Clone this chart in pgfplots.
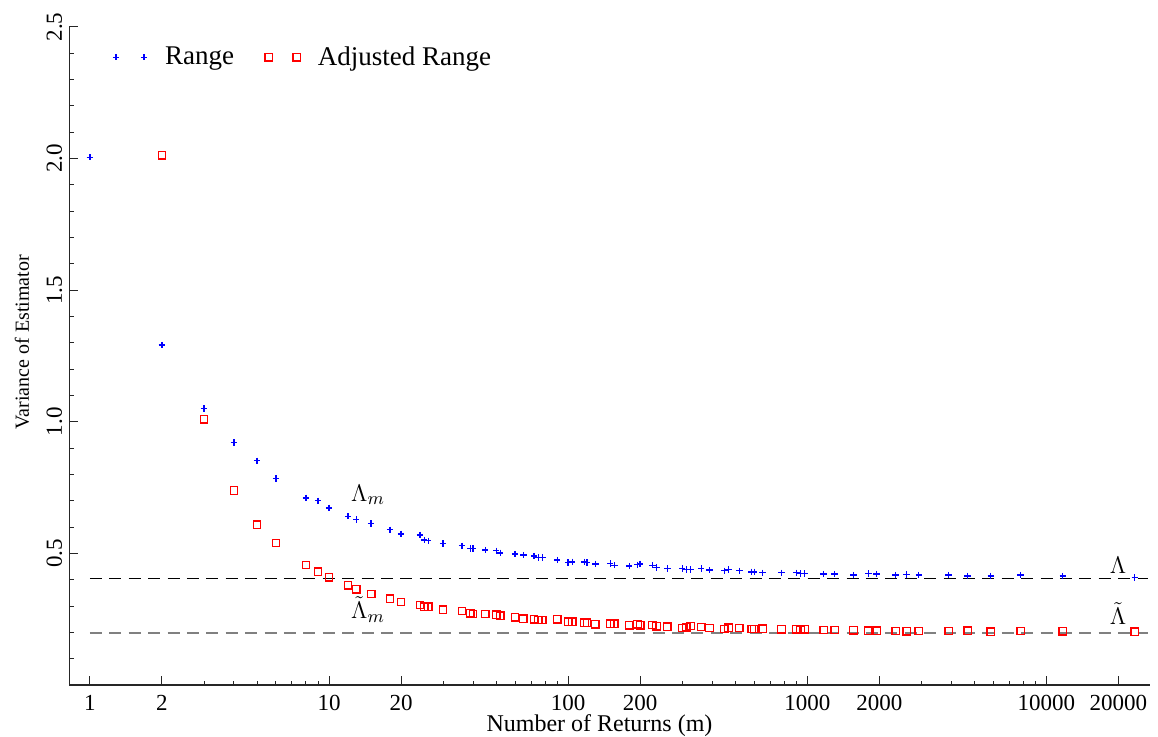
\documentclass[border=0pt]{standalone}
\usepackage{fontspec}
\setmainfont{Liberation Serif}
\usepackage{pgfplots}
\pgfplotsset{compat=1.18}
\usepackage{pgfplotstable}

\pgfplotsset{twomarks/.style={legend image code/.code={\draw[mark repeat=2,mark phase=1,##1] plot coordinates {(0pt,0pt)(7pt,0pt)(14pt,0pt)};\path[draw=none,fill=none] (-1pt,0pt) -- (22.5pt,0pt);}}}

\pgfplotstableread{
m v
1 2.005
2 1.291
3 1.051
4 0.922
5 0.852
6 0.784
8 0.711
9 0.700
10 0.673
12 0.641
13 0.629
15 0.614
18 0.590
20 0.574
24 0.570
25 0.551
26 0.548
30 0.538
36 0.529
39 0.518
40 0.518
45 0.513
50 0.510
52 0.502
60 0.497
65 0.494
72 0.490
75 0.484
78 0.484
90 0.475
100 0.465
104 0.468
117 0.467
120 0.465
130 0.460
150 0.462
156 0.455
180 0.452
195 0.457
200 0.460
225 0.455
234 0.446
260 0.443
300 0.443
312 0.439
325 0.439
360 0.443
390 0.437
450 0.434
468 0.439
520 0.434
585 0.430
600 0.430
650 0.4265
780 0.4265
900 0.4265
936 0.424
975 0.424
1170 0.4216
1300 0.4216
1560 0.418
1800 0.424
1950 0.4216
2340 0.418
2600 0.420
2925 0.418
3900 0.418
4680 0.414
5850 0.414
7800 0.418
11700 0.414
23400 0.409
}\rangedata

\pgfplotstableread{
m v
2 2.013
3 1.010
4 0.739
5 0.609
6 0.540
8 0.456
9 0.430
10 0.409
12 0.379
13 0.363
15 0.346
18 0.328
20 0.315
24 0.304
25 0.297
26 0.297
30 0.286
36 0.281
39 0.272
40 0.270
45 0.270
50 0.267
52 0.263
60 0.257
65 0.252
72 0.2495
75 0.247
78 0.247
90 0.2495
100 0.240
104 0.240
117 0.237
120 0.237
130 0.2305
150 0.233
156 0.233
180 0.227
195 0.2305
200 0.227
225 0.228
234 0.223
260 0.2215
300 0.2165
312 0.219
325 0.224
360 0.220
390 0.2165
450 0.2127
468 0.2176
520 0.2165
585 0.2127
600 0.2127
650 0.214
780 0.2115
900 0.2115
936 0.209
975 0.2115
1170 0.209
1300 0.209
1560 0.2077
1800 0.206
1950 0.206
2340 0.205
2600 0.204
2925 0.205
3900 0.205
4680 0.206
5850 0.2025
7800 0.205
11700 0.204
23400 0.2025
}\adjdata

\definecolor{pblue}{RGB}{0,0,255}
\definecolor{pred}{RGB}{255,0,0}

\begin{document}
\begin{tikzpicture}
\useasboundingbox (0,0) rectangle (579pt,368.5pt);
\begin{axis}[
  at={(34.65pt,26pt)}, anchor=south west,
  scale only axis, width=540.35pt, height=329pt,
  xmode=log, xmin=0.82, xmax=27100, ymin=0, ymax=2.5,
  axis x line*=bottom, axis y line*=left,
  axis line style={black!85, line width=0.6pt},
  tick style={black!85, line width=0.5pt},
  major tick length=4.5pt, minor tick length=2.2pt,
  tick align=inside,
  /pgf/number format/assume math mode=true,
  xtick={1,2,10,20,100,200,1000,2000,10000,20000},
  xticklabels={1,2,10,20,100,200,1000,2000,10000,20000},
  minor xtick={3,4,5,6,7,8,9,30,40,50,60,70,80,90,300,400,500,600,700,800,900,3000,4000,5000,6000,7000,8000,9000},
  ytick={0.5,1.0,1.5,2.0,2.5},
  yticklabels={0.5,1.0,1.5,2.0,2.5},
  minor ytick={0.1,0.2,0.3,0.4,0.6,0.7,0.8,0.9,1.1,1.2,1.3,1.4,1.6,1.7,1.8,1.9,2.1,2.2,2.3,2.4},
  xticklabel style={font=\fontsize{11.5}{13}\selectfont, yshift=-1.5pt},
  yticklabel style={font=\fontsize{11.5}{13}\selectfont, rotate=90, anchor=south},
  xlabel={Number of Returns (m)},
  xlabel style={font=\fontsize{12}{14}\selectfont, at={(axis description cs:0.4906,-0.0712)}, anchor=base, inner sep=0pt},
  ylabel={Variance of Estimator},
  ylabel style={font=\fontsize{10}{12}\selectfont, at={(axis description cs:-0.0438,0.521)}, anchor=center, inner sep=0pt},
  legend columns=2,
  legend style={at={(axis description cs:0.040,0.954)}, anchor=west, draw=none, fill=none,
    font=\fontsize{13.5}{15}\selectfont, inner sep=0pt,
    /tikz/every even column/.append style={column sep=13.5pt}},
  legend cell align=left,
  clip=false,
]
\addplot[black, line width=0.5pt, dash pattern=on 6pt off 3.7pt, forget plot] coordinates {(1,0.405) (26500,0.405)};
\addplot[black!50, line width=0.9pt, dash pattern=on 6pt off 3.7pt, forget plot] coordinates {(1,0.1975) (26500,0.1975)};
\addplot[color=pblue, only marks, mark=+, mark size=1.6pt, line width=0.7pt,
  mark options={solid, draw=pblue, line width=0.7pt}, twomarks]
  table[x=m,y=v] {\rangedata};
\addlegendentry{Range}
\addplot[color=pred, only marks, mark=square, mark size=1.85pt, line width=0.65pt,
  mark options={solid, draw=pred, fill=none, line width=0.65pt}, twomarks]
  table[x=m,y=v] {\adjdata};
\addlegendentry{Adjusted Range}
\node[anchor=base west, inner sep=0pt, font=\fontsize{13}{15}\selectfont] at (axis cs:12.33,0.699) {$\Lambda_m$};
\node[anchor=base west, inner sep=0pt, font=\fontsize{13}{15}\selectfont] at (axis cs:12.33,0.251) {$\tilde{\Lambda}_m$};
\node[anchor=base west, inner sep=0pt, font=\fontsize{13}{15}\selectfont] at (axis cs:18340,0.425) {$\Lambda$};
\node[anchor=base west, inner sep=0pt, font=\fontsize{13}{15}\selectfont] at (axis cs:18340,0.228) {$\tilde{\Lambda}$};
\end{axis}
\end{tikzpicture}
\end{document}
